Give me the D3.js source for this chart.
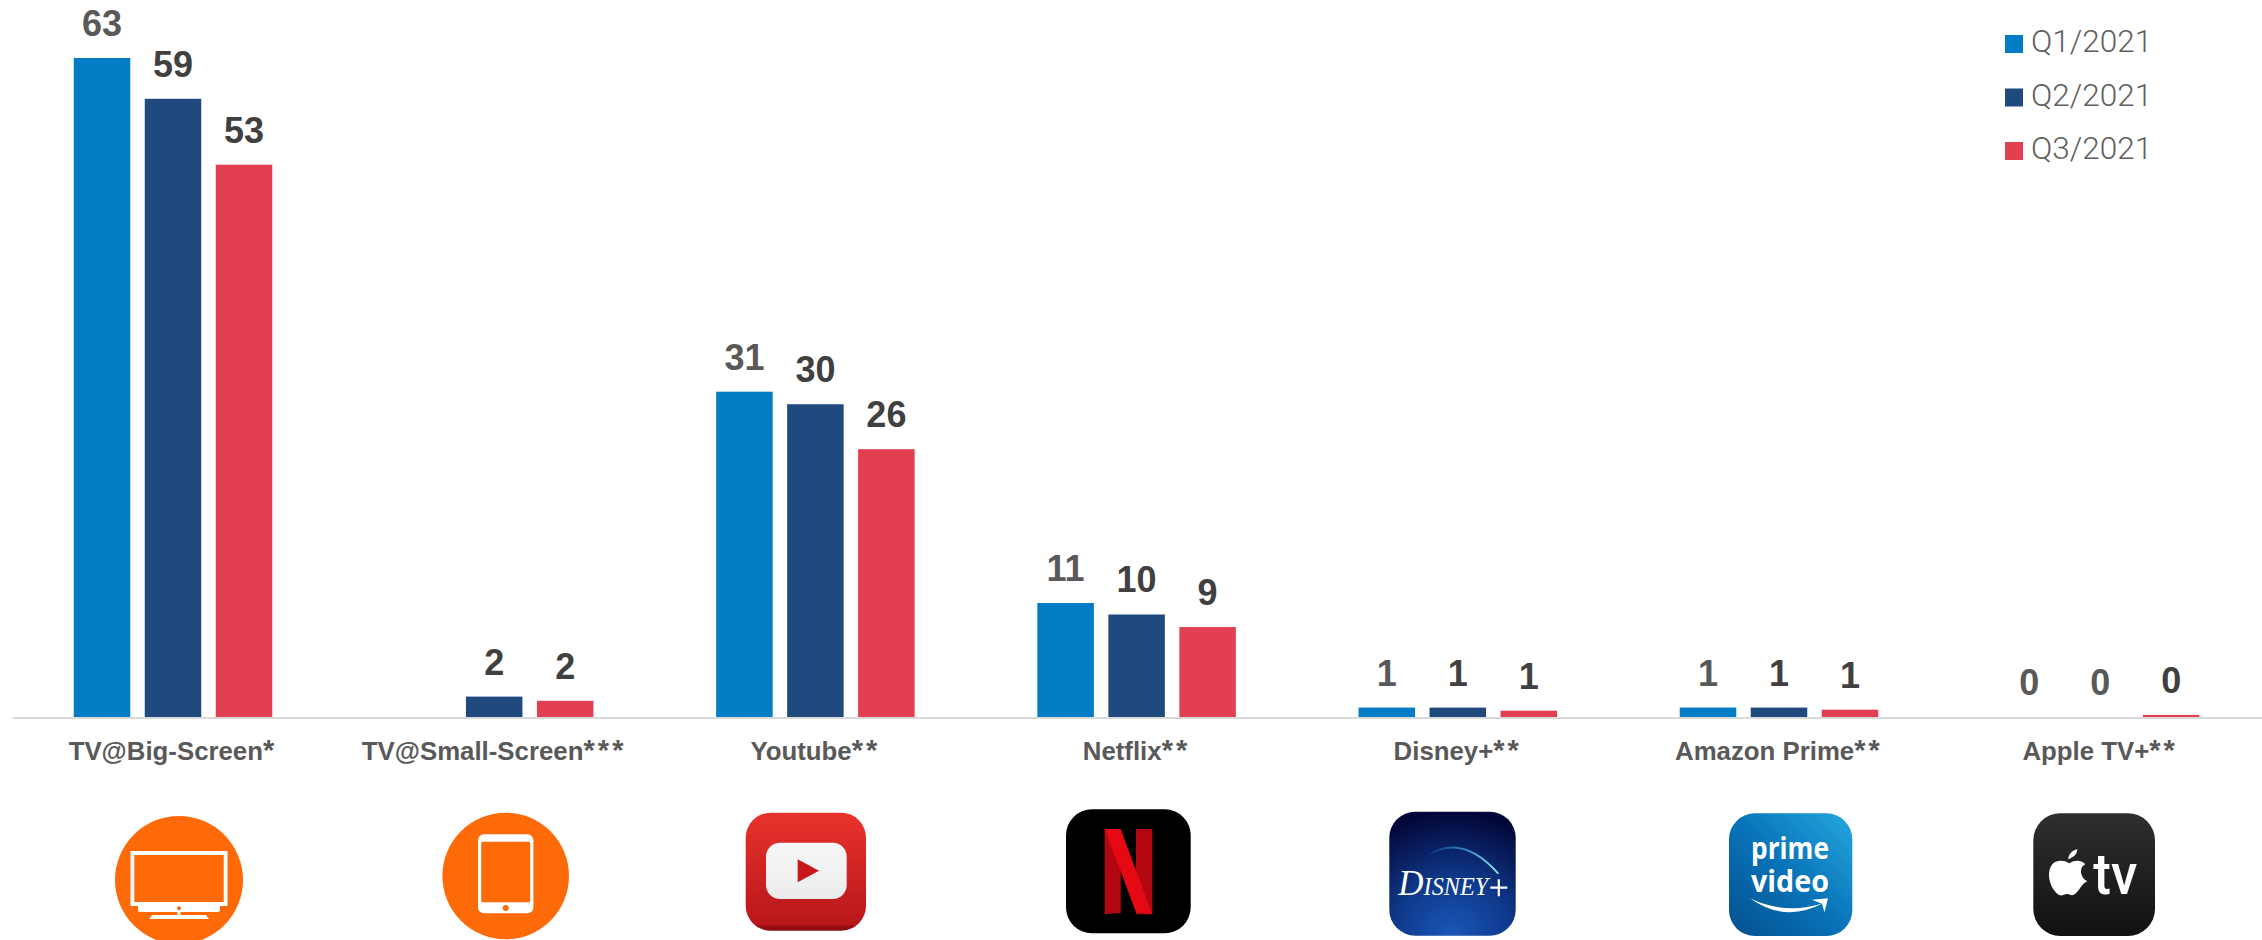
<!DOCTYPE html>
<html><head><meta charset="utf-8">
<script src="https://cdn.jsdelivr.net/npm/d3@7/dist/d3.min.js"></script>
<style>html,body{margin:0;padding:0;background:#fff;overflow:hidden}svg{display:block}</style>
</head><body><div id="chart"></div>
<script>
const categories = ["TV@Big-Screen*","TV@Small-Screen***","Youtube**","Netflix**","Disney+**","Amazon Prime**","Apple TV+**"];
const seriesNames = ["Q1/2021","Q2/2021","Q3/2021"];
const q1Values = [63,null,31.1,10.9,0.9,0.9,0];
const q2Values = [59.1,1.95,29.9,9.8,0.9,0.9,0];
const q3Values = [52.8,1.55,25.6,8.6,0.6,0.7,0.2];
const q1Labels = ["63","","31","11","1","1","0"];
const q2Labels = ["59","2","30","10","1","1","0"];
const q3Labels = ["53","2","26","9","1","1","0"];
const seriesColors = ["#027cc5","#204a7d","#e24051"];

const W=2262,H=940,base=717;
const svg=d3.select("#chart").append("svg").attr("width",W).attr("height",H).attr("viewBox",`0 0 ${W} ${H}`);
const defs=svg.append("defs");
function grad(id,x1,y1,x2,y2,stops){const g=defs.append("linearGradient").attr("id",id).attr("x1",x1).attr("y1",y1).attr("x2",x2).attr("y2",y2);
 stops.forEach(s=>g.append("stop").attr("offset",s[0]).attr("stop-color",s[1]));}
grad("gYt",0,0,0,1,[[0,"#e8332b"],[.95,"#b9161b"],[.965,"#8f0d12"],[1,"#8f0d12"]]);
grad("gYtIn",0,0,0,1,[[0,"#f7f7f7"],[1,"#ececec"]]);
grad("gPrime",1,0,0,1,[[0,"#25a8de"],[.5,"#0873b8"],[1,"#04508f"]]);
grad("gApple",0,0,0,1,[[0,"#2f2f2f"],[1,"#111111"]]);
const rg=defs.append("radialGradient").attr("id","gDis").attr("cx",.5).attr("cy",1).attr("r",1);
[[0,"#1a56b8"],[.45,"#0f3a8c"],[1,"#030637"]].forEach(s=>rg.append("stop").attr("offset",s[0]).attr("stop-color",s[1]));

const x0=d3.scaleBand().domain(categories).range([12.4,2260.8]).padding(0);
const x1=d3.scaleBand().domain(seriesNames).range([0,198.5]).paddingInner(0.204);
const y=d3.scaleLinear().domain([0,63]).range([base,58]);
const labelFont='"Liberation Sans",Arial,sans-serif';

const rows=seriesNames.map((s,i)=>({s,i,vals:[q1Values,q2Values,q3Values][i],labs:[q1Labels,q2Labels,q3Labels][i]}));
const gs=svg.selectAll("g.series").data(rows).join("g").attr("class","series").attr("fill",d=>seriesColors[d.i]);
const cx=c=>x0(c)+x0.bandwidth()/2-99.25;
gs.selectAll("rect").data(d=>categories.map((c,j)=>({c,v:d.vals[j],l:d.labs[j],s:d.s})).filter(e=>e.v!==null))
 .join("rect").attr("x",e=>cx(e.c)+x1(e.s)).attr("width",x1.bandwidth())
 .attr("y",e=>y(e.v)).attr("height",e=>y(0)-y(e.v));
gs.selectAll("text").data(d=>categories.map((c,j)=>({c,v:d.vals[j],l:d.labs[j],s:d.s,k:d.i})).filter(e=>e.v!==null))
 .join("text").attr("x",e=>cx(e.c)+x1(e.s)+x1.bandwidth()/2).attr("y",e=>y(e.v)-22)
 .attr("text-anchor","middle").attr("font-family",labelFont).attr("font-weight",700).attr("font-size",36)
 .attr("fill",e=>(e.k===0)||(e.v===0&&e.k<2)?"#595959":"#404040").text(e=>e.l);

const axis=svg.append("g").attr("transform",`translate(0,${base+1})`).call(d3.axisBottom(x0).tickSize(0).tickPadding(23.7));
axis.select(".domain").attr("stroke","#d9d9d9").attr("stroke-width",2).attr("d","M13,0H2262");
axis.selectAll("text").attr("font-family",labelFont).attr("font-weight",700).attr("font-size",25.8).attr("fill","#595959")
 .each(function(d){const t=d3.select(this);const m=d.match(/^(.*?)(\*+)$/);t.text(null);
  t.append("tspan").text(m[1]);
  t.append("tspan").attr("font-size",29).attr("letter-spacing",3.1).text(m[2]);});

// legend
const lg=svg.append("g").selectAll("g").data(seriesNames).join("g")
 .attr("transform",(d,i)=>`translate(2005,${35+i*53.5})`);
lg.append("rect").attr("width",18).attr("height",18).attr("fill",(d,i)=>seriesColors[i]);
lg.append("text").attr("x",26).attr("y",17).attr("font-family","Roboto").attr("font-weight",300).attr("font-size",31.5).attr("fill","#5f5f5f").text(d=>d);

// icons
const ic=svg.append("g");
function tvIcon(){const g=ic.append("g").attr("transform","translate(179,880)");
 g.append("circle").attr("r",64).attr("fill","#ff6a08");
 g.append("path").attr("fill","#fff").attr("fill-rule","evenodd").attr("d","M-48.5,-29H48.5V26H-48.5ZM-44.7,-25V22H44.7V-25Z");
 g.append("path").attr("fill","#fff").attr("d","M-41,26H41V30Q41,32 39,32H-39Q-41,32 -41,30ZM-1.5,32H1.5V35H-1.5ZM-27,35H27L30,39H-30Z");
 g.append("circle").attr("cy",28.3).attr("r",2).attr("fill","#ff6a08");}
function tabletIcon(){const g=ic.append("g").attr("transform","translate(505.7,876)");
 g.append("circle").attr("r",63.3).attr("fill","#ff6a08");
 g.append("rect").attr("x",-27.7).attr("y",-41.7).attr("width",55.4).attr("height",79).attr("rx",6).attr("fill","#fff");
 g.append("rect").attr("x",-24.5).attr("y",-34.3).attr("width",49).attr("height",60.6).attr("rx",1.5).attr("fill","#ff6a08");
 g.append("circle").attr("cy",32).attr("r",3).attr("fill","#ff6a08");}
function ytIcon(){const g=ic.append("g").attr("transform","translate(745.7,812.7)");
 g.append("rect").attr("width",120.3).attr("height",118).attr("rx",25).attr("fill","url(#gYt)");
 g.append("rect").attr("x",20.3).attr("y",30).attr("width",80.7).attr("height",56.3).attr("rx",14).attr("fill","url(#gYtIn)");
 g.append("path").attr("fill","#c8161d").attr("d","M52,46.6L73.3,58L52,69.6Z");}
function nfIcon(){const g=ic.append("g").attr("transform","translate(1066,809.3)");
 g.append("rect").attr("width",124.7).attr("height",124).attr("rx",26).attr("fill","#000");
 g.append("path").attr("fill","#b20710").attr("d","M38.7,19.7H54.7V104Q46,104 38.7,105Z");
 g.append("path").attr("fill","#b20710").attr("d","M70,19.7H86.3V105H70Z");
 g.append("path").attr("fill","#e50914").attr("d","M38.7,19.7H54.7L86.3,105Q78,103.5 70,103Z");}
function disIcon(){const g=ic.append("g").attr("transform","translate(1389.3,811.7)");
 g.append("rect").attr("width",126.4).attr("height",124).attr("rx",26).attr("fill","url(#gDis)");
 const ag=defs.append("linearGradient").attr("id","gArc").attr("gradientUnits","userSpaceOnUse").attr("x1",39).attr("x2",109).attr("y1",0).attr("y2",0);
 [[0,"#0b2a7a"],[.55,"#2f8fc4"],[1,"#8fe6ef"]].forEach(s=>ag.append("stop").attr("offset",s[0]).attr("stop-color",s[1]));
 g.append("path").attr("fill","none").attr("stroke","url(#gArc)").attr("stroke-width",1.8).attr("d","M39,43Q74,22 109,62");
 g.append("text").attr("x",9).attr("y",83).attr("font-family","Liberation Serif").attr("font-style","italic").attr("font-weight",400).attr("font-variant","small-caps").attr("font-size",36).attr("fill","#fff").attr("textLength",90).attr("lengthAdjust","spacingAndGlyphs").text("Disney");
 g.append("path").attr("stroke","#fff").attr("stroke-width",2.2).attr("d","M101,76H118M109.5,67.5V84.5");}
function primeIcon(){const g=ic.append("g").attr("transform","translate(1729,813.3)");
 g.append("rect").attr("width",123.3).attr("height",122.7).attr("rx",26).attr("fill","url(#gPrime)");
 const t=(s,yy)=>g.append("text").attr("x",22).attr("y",yy).attr("font-family","Open Sans").attr("font-weight",700).attr("font-size",31).attr("fill","#fff").attr("textLength",78).attr("lengthAdjust","spacingAndGlyphs").text(s);
 t("prime",46);t("video",79);
 g.append("path").attr("fill","#fff").attr("d","M21,85Q56,110 94,90Q56,102 21,85Z");
 g.append("path").attr("fill","#fff").attr("d","M83,86.5L99,85L95.5,99L93,90.5Z");}
function appleIcon(){const g=ic.append("g").attr("transform","translate(2033.3,813.3)");
 g.append("rect").attr("width",121.7).attr("height",122.7).attr("rx",27).attr("fill","url(#gApple)");
 g.append("path").attr("fill","#fff").attr("d","M36,50C30,46 22,47 19,51C14,57 15,68 20,76C23,80 26,83 29,82C32,81 34,80 37,81.5C40,83 43,80 46,76C49,72 50,70 54,68C47,65 45,54 52,51C49,47 42,46 36,50ZM35,46C40,44 44,41 44,36C39,37 35,41 35,46Z");
 g.append("text").attr("x",60).attr("y",81).attr("font-family","Roboto").attr("font-weight",500).attr("font-size",58).attr("fill","#fff").attr("textLength",44).attr("lengthAdjust","spacingAndGlyphs").text("tv");}
tvIcon();tabletIcon();ytIcon();nfIcon();disIcon();primeIcon();appleIcon();
</script></body></html>
